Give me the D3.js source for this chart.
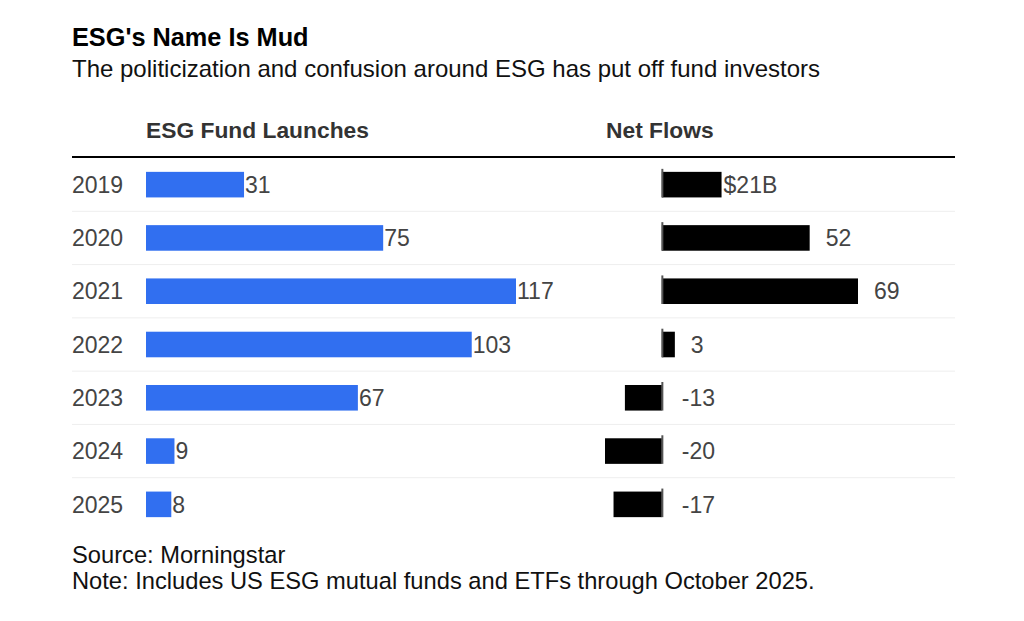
<!DOCTYPE html>
<html>
<head>
<meta charset="utf-8">
<script src="https://cdn.jsdelivr.net/npm/d3@7"></script>
<style>
  body { margin: 0; background: #fff; }
  text { font-family: "Liberation Sans", Arial, sans-serif; }
</style>
</head>
<body>
<div class="canvas"></div>
<script>
// chart data
const years = ['2019', '2020', '2021', '2022', '2023', '2024', '2025'];
const launches = [31, 75, 117, 103, 67, 9, 8];
const netFlows = [21, 52, 69, 3, -13, -20, -17];
const flowLabels = ['$21B', '52', '69', '3', '-13', '-20', '-17'];

const dims = { width: 1024, height: 621 };

const svg = d3
  .select('.canvas')
  .append('svg')
  .attr('width', dims.width)
  .attr('height', dims.height);

// titles
svg.append('text')
  .attr('x', 72).attr('y', 46)
  .attr('font-size', 25.3).attr('font-weight', 'bold').attr('fill', '#000')
  .text("ESG's Name Is Mud");

svg.append('text')
  .attr('x', 72).attr('y', 77)
  .attr('font-size', 24).attr('fill', '#111')
  .text('The politicization and confusion around ESG has put off fund investors');

// column headers
svg.append('text')
  .attr('x', 146).attr('y', 138)
  .attr('font-size', 22.8).attr('font-weight', 'bold').attr('fill', '#333')
  .text('ESG Fund Launches');

svg.append('text')
  .attr('x', 606).attr('y', 138)
  .attr('font-size', 22.8).attr('font-weight', 'bold').attr('fill', '#333')
  .text('Net Flows');

// header rule
svg.append('line')
  .attr('x1', 72).attr('x2', 955)
  .attr('y1', 157).attr('y2', 157)
  .attr('stroke', '#000').attr('stroke-width', 2);

// scales
const y = d3.scaleBand()
  .domain(years)
  .range([158, 531])
  .paddingInner(0.52)
  .paddingOuter(0.26);

const xL = d3.scaleLinear()
  .domain([0, 117])
  .range([146, 516]);

const xR = d3.scaleLinear()
  .domain([-20, 69])
  .range([605, 858]);

// row separators
const step = y.step();
svg.append('g')
  .selectAll('line')
  .data(years.slice(1))
  .enter()
  .append('line')
  .attr('x1', 72).attr('x2', 955)
  .attr('y1', d => y(d) - (step - y.bandwidth()) / 2)
  .attr('y2', d => y(d) - (step - y.bandwidth()) / 2)
  .attr('stroke', '#eeeeee').attr('stroke-width', 1);

// year labels
svg.append('g')
  .selectAll('text')
  .data(years)
  .enter()
  .append('text')
  .attr('x', 72)
  .attr('y', d => y(d) + y.bandwidth() / 2)
  .attr('dy', '0.36em')
  .attr('font-size', 23).attr('fill', '#444')
  .text(d => d);

// left bars
const left = svg.append('g');
left.selectAll('rect')
  .data(launches)
  .enter()
  .append('rect')
  .attr('x', xL(0))
  .attr('y', (d, i) => y(years[i]))
  .attr('width', d => xL(d) - xL(0))
  .attr('height', y.bandwidth())
  .attr('fill', '#316ff0');

left.selectAll('text')
  .data(launches)
  .enter()
  .append('text')
  .attr('x', d => xL(d) + 1)
  .attr('y', (d, i) => y(years[i]) + y.bandwidth() / 2)
  .attr('dy', '0.36em')
  .attr('font-size', 23).attr('fill', '#444')
  .text(d => d);

// right bars (tiny values get a minimum width so they stay visible)
const right = svg.append('g');
right.selectAll('rect')
  .data(netFlows)
  .enter()
  .append('rect')
  .attr('x', d => xR(Math.min(0, d)))
  .attr('y', (d, i) => y(years[i]))
  .attr('width', d => Math.max(Math.abs(xR(d) - xR(0)), 13))
  .attr('height', y.bandwidth())
  .attr('fill', '#000');

// zero ticks
right.selectAll('line')
  .data(netFlows)
  .enter()
  .append('line')
  .attr('x1', xR(0) + 0.5).attr('x2', xR(0) + 0.5)
  .attr('y1', (d, i) => y(years[i]) - 3)
  .attr('y2', (d, i) => y(years[i]) + y.bandwidth())
  .attr('stroke', '#555').attr('stroke-width', 2);

right.selectAll('text')
  .data(netFlows)
  .enter()
  .append('text')
  .attr('x', (d, i) => {
    if (d < 0) return xR(0) + 20;
    const end = Math.max(xR(d), xR(0) + 13);
    return i === 0 ? end + 2 : end + 16;
  })
  .attr('y', (d, i) => y(years[i]) + y.bandwidth() / 2)
  .attr('dy', '0.36em')
  .attr('font-size', 23).attr('fill', '#444')
  .text((d, i) => flowLabels[i]);

// footer
svg.append('text')
  .attr('x', 72).attr('y', 563)
  .attr('font-size', 23.7).attr('fill', '#111')
  .text('Source: Morningstar');

svg.append('text')
  .attr('x', 72).attr('y', 589)
  .attr('font-size', 23.7).attr('fill', '#111')
  .text('Note: Includes US ESG mutual funds and ETFs through October 2025.');
</script>
</body>
</html>
